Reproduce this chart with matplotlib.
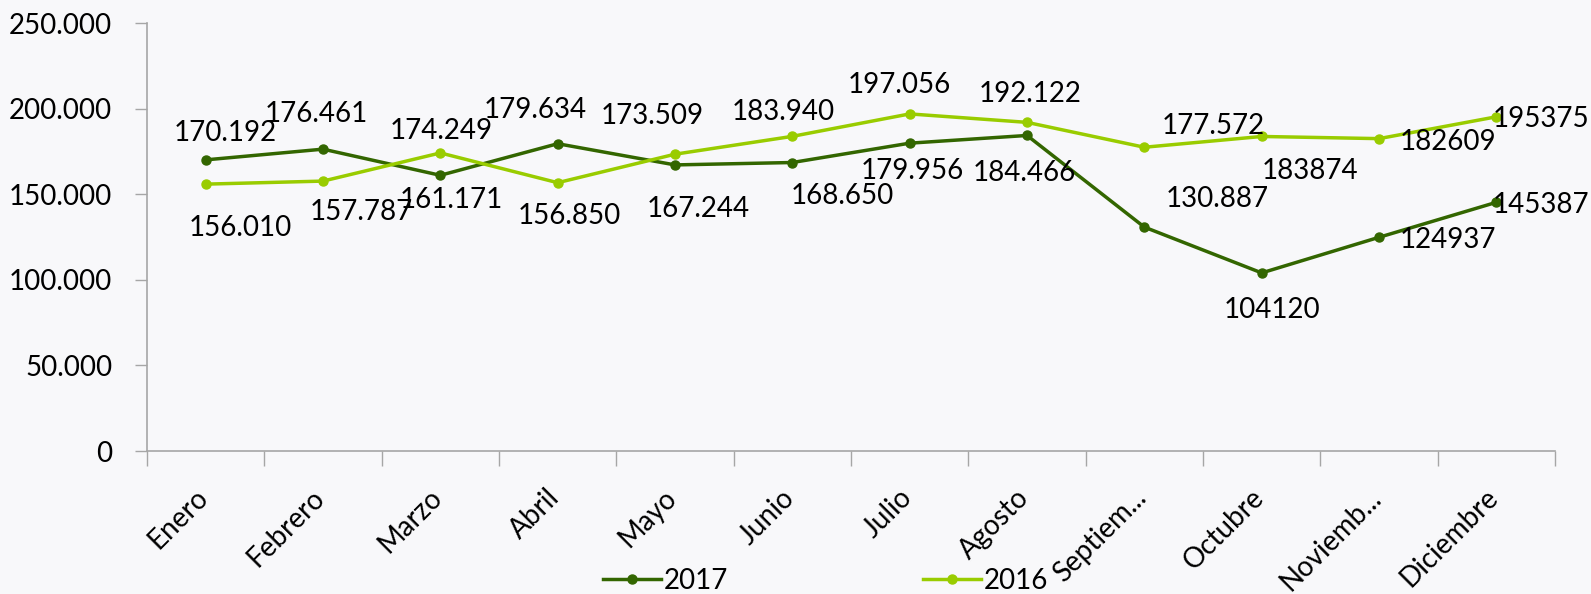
import matplotlib
matplotlib.use('Agg')
import matplotlib.pyplot as plt
import matplotlib.ticker as mtick
import matplotlib.transforms as mtrans
from matplotlib.lines import Line2D

months = ['Enero', 'Febrero', 'Marzo', 'Abril', 'Mayo', 'Junio', 'Julio',
          'Agosto', 'Septiem...', 'Octubre', 'Noviemb...', 'Diciembre']

values_2017 = [170192, 176461, 161171, 179634, 167244, 168650, 179956,
               184466, 130887, 104120, 124937, 145387]
values_2016 = [156010, 157787, 174249, 156850, 173509, 183940, 197056,
               192122, 177572, 183874, 182609, 195375]

# label text as shown in the source chart (last months lost the separator)
labels_2017 = ['170.192', '176.461', '161.171', '179.634', '167.244', '168.650',
               '179.956', '184.466', '130.887', '104120', '124937', '145387']
labels_2016 = ['156.010', '157.787', '174.249', '156.850', '173.509', '183.940',
               '197.056', '192.122', '177.572', '183874', '182609', '195375']

# label centre offsets from the point, in pixels (x right, y down)
offsets_2017 = [(20, -29), (-7, -37), (11, 23), (-22, -36), (23, 42), (50, 31),
                (3, 26), (-3, 36), (73, -30), (10, 35), (69, 1), (45, 1)]
offsets_2016 = [(35, 42), (38, 29), (1, -24), (12, 31), (-23, -40), (-9, -26),
                (-10, -31), (3, -30), (69, -23), (48, 33), (69, 1), (45, 0)]

dark_green = '#336600'
light_green = '#99CC00'
bg = '#F8F8FA'
axis_grey = '#A6A6A6'

plt.rcParams['font.family'] = ['Lato', 'DejaVu Sans']
fs = 20

fig = plt.figure(figsize=(15.91, 5.94), dpi=100, facecolor=bg)
ax = fig.add_axes([0.0924, 0.2407, 0.8850, 0.7200], facecolor=bg)

x = list(range(len(months)))
ax.plot(x, values_2017, color=dark_green, lw=2.5, marker='o', ms=6.5, zorder=3)
ax.plot(x, values_2016, color=light_green, lw=2.5, marker='o', ms=6.5, zorder=3)

half_digit = 10
for vals, labs, offs in [(values_2017, labels_2017, offsets_2017),
                         (values_2016, labels_2016, offsets_2016)]:
	for xi, v, lab, (dx, dy) in zip(x, vals, labs, offs):
		ax.annotate(lab, (xi, v), xytext=(dx, -(dy + half_digit)),
		            textcoords='offset pixels', ha='center', va='baseline',
		            fontsize=fs, color='black', zorder=4)

ax.set_xlim(-0.5, len(months) - 0.5)
ax.set_ylim(0, 250000)
ax.yaxis.set_major_locator(mtick.MultipleLocator(50000))
ax.yaxis.set_major_formatter(mtick.FuncFormatter(lambda v, p: f'{int(v):,}'.replace(',', '.')))

ax.set_xticks(x)
ax.set_xticklabels(months, rotation=45, ha='right', fontsize=fs)
ax.set_xticks([i - 0.5 for i in range(len(months) + 1)], minor=True)
ax.tick_params(axis='x', which='major', length=0, pad=24)
ax.tick_params(axis='x', which='minor', length=11, width=1, color=axis_grey, direction='out')
ax.tick_params(axis='y', length=9, width=1, color=axis_grey, pad=16, labelsize=fs)

# small shift of the rotated month labels to the right
shift = mtrans.ScaledTranslation(7 / 100, 0, fig.dpi_scale_trans)
for lab in ax.get_xticklabels():
	lab.set_transform(lab.get_transform() + shift)

for side in ['top', 'right']:
	ax.spines[side].set_visible(False)
for side in ['left', 'bottom']:
	ax.spines[side].set_color(axis_grey)
	ax.spines[side].set_linewidth(1.2)

handles = [
	Line2D([], [], color=dark_green, lw=2.5, marker='o', ms=6.5),
	Line2D([], [], color=light_green, lw=2.5, marker='o', ms=6.5),
]
fig.legend(handles, ['2017', '2016'], loc='center', bbox_to_anchor=(0.5189, 0.022),
           ncol=2, frameon=False, fontsize=fs, handlelength=2.1,
           handletextpad=0.1, columnspacing=7.0)

fig.savefig('out.png', dpi=100, facecolor=bg)
